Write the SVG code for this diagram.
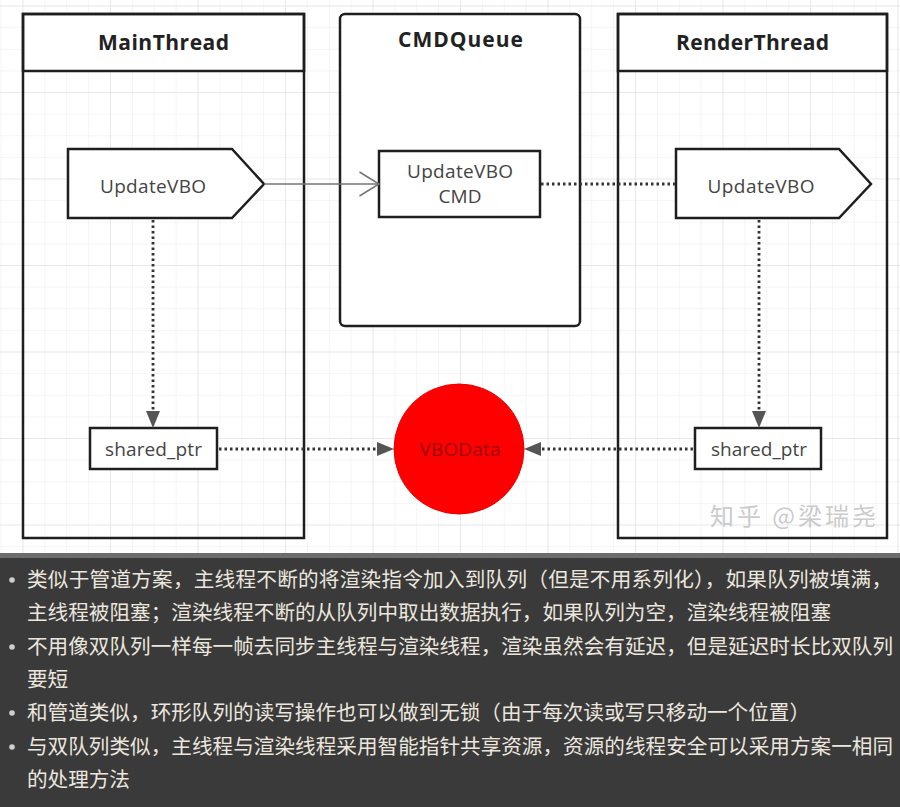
<svg xmlns="http://www.w3.org/2000/svg" width="900" height="807" viewBox="0 0 900 807">
<defs>
<style>
.lane{fill:none;stroke:#1e1e1e;stroke-width:2.5}
.hdr{fill:#fff;stroke:#1e1e1e;stroke-width:2.5}
.title{font-family:"Open Sans","Noto Sans",sans-serif;font-weight:700;font-size:21px;fill:#222;text-anchor:middle}
.lbl{font-family:"Open Sans","Noto Sans",sans-serif;font-size:19px;fill:#444;text-anchor:middle}
.box{fill:#fff;stroke:#1e1e1e;stroke-width:2.5}
.dot{fill:none;stroke:#333;stroke-width:2.8;stroke-dasharray:2.5 3}
.solid{fill:none;stroke:#747474;stroke-width:1.5}
.cn{font-family:"Noto Sans CJK SC","Noto Sans",sans-serif;font-size:20.6px;fill:#ebe7df}
.bul{fill:#cfcfcf}
</style>
<pattern id="gMinor" width="21.875" height="21.625" patternUnits="userSpaceOnUse" x="0.625" y="5.5">
<path d="M0 0V21.625M0 0H21.875" fill="none" stroke="#ececec" stroke-width="1"/>
</pattern>
<pattern id="gMajor" width="87.5" height="86.5" patternUnits="userSpaceOnUse" x="22.5" y="5.5">
<path d="M0 0V86.5M0 0H87.5" fill="none" stroke="#dedede" stroke-width="1"/>
</pattern>
<marker id="tri" markerUnits="userSpaceOnUse" markerWidth="17" markerHeight="14" refX="0" refY="7" orient="auto">
<path d="M0,0 L17,7 L0,14 z" fill="#555"/>
</marker>
<marker id="open" markerUnits="userSpaceOnUse" markerWidth="22" markerHeight="26" refX="20.5" refY="13" orient="auto">
<path d="M1,1 L20.5,13 L1,25" fill="none" stroke="#747474" stroke-width="1.5"/>
</marker>
</defs>

<rect x="0" y="0" width="900" height="553" fill="#fff"/>
<rect x="0" y="0" width="900" height="553" fill="url(#gMinor)"/>
<rect x="0" y="0" width="900" height="553" fill="url(#gMajor)"/>

<g id="MainThread">
<rect class="hdr" x="23" y="14" width="281" height="57"/>
<rect class="lane" x="23" y="14" width="281" height="524"/>
<text class="title" x="163.5" y="50" textLength="131">MainThread</text>
</g>

<g id="CMDQueue">
<rect class="box" x="340" y="14" width="240" height="312" rx="5"/>
<text class="title" x="460.5" y="47" textLength="125">CMDQueue</text>
</g>

<g id="RenderThread">
<rect class="hdr" x="618" y="14" width="269" height="57"/>
<rect class="lane" x="618" y="14" width="269" height="524"/>
<text class="title" x="752.5" y="50" textLength="153">RenderThread</text>
</g>

<g id="UpdateVBO_main">
<polygon class="box" points="68,149 232,149 264,184 232,218 68,218"/>
<text class="lbl" x="153" y="193" textLength="106">UpdateVBO</text>
</g>

<g id="UpdateVBO_cmd">
<rect class="box" x="379" y="151" width="161" height="66"/>
<text class="lbl" x="460" y="178" font-size="18" textLength="106">UpdateVBO</text>
<text class="lbl" x="460" y="203" font-size="18">CMD</text>
</g>

<g id="UpdateVBO_render">
<polygon class="box" points="676,149 839,149 871,184 839,218 676,218"/>
<text class="lbl" x="761" y="193" textLength="107">UpdateVBO</text>
</g>

<g id="shared_ptr_main">
<rect class="box" x="90" y="428" width="127" height="41"/>
<text class="lbl" x="153.5" y="456" textLength="97">shared_ptr</text>
</g>

<g id="shared_ptr_render">
<rect class="box" x="695" y="428" width="126" height="41"/>
<text class="lbl" x="759" y="456" textLength="96">shared_ptr</text>
</g>

<g id="VBOData">
<circle cx="459" cy="449" r="65" fill="#ff0000" stroke="#e80000" stroke-width="1"/>
<text x="460" y="456" text-anchor="middle" font-family="Open Sans, Noto Sans, sans-serif" font-size="19" fill="#9a0000" textLength="81">VBOData</text>
</g>

<g id="connectors">
<line class="solid" x1="264" y1="184" x2="379" y2="184" marker-end="url(#open)"/>
<line class="dot" x1="541" y1="184" x2="676" y2="184"/>
<line class="dot" x1="153" y1="220" x2="153" y2="411" marker-end="url(#tri)"/>
<line class="dot" x1="759" y1="220" x2="759" y2="411" marker-end="url(#tri)"/>
<line class="dot" x1="219" y1="449" x2="377" y2="449" marker-end="url(#tri)"/>
<line class="dot" x1="693" y1="449" x2="541" y2="449" marker-end="url(#tri)"/>
</g>

<text x="710" y="525" font-family="Noto Sans CJK SC, sans-serif" font-size="24" fill="#cbcbcb" textLength="166">知乎 @梁瑞尧</text>

<rect x="0" y="553" width="900" height="5" fill="#6d6d6d"/>
<rect x="0" y="558" width="900" height="249" fill="#3a3a3a"/>

<g id="notes">
<circle class="bul" cx="12" cy="580" r="2.8"/>
<circle class="bul" cx="12" cy="647" r="2.8"/>
<circle class="bul" cx="12" cy="713" r="2.8"/>
<circle class="bul" cx="12" cy="747" r="2.8"/>
<text class="cn" x="27" y="587" textLength="865">类似于管道方案，主线程不断的将渲染指令加入到队列（但是不用系列化），如果队列被填满，</text>
<text class="cn" x="27" y="620" textLength="804">主线程被阻塞；渲染线程不断的从队列中取出数据执行，如果队列为空，渲染线程被阻塞</text>
<text class="cn" x="27" y="654" textLength="866">不用像双队列一样每一帧去同步主线程与渲染线程，渲染虽然会有延迟，但是延迟时长比双队列</text>
<text class="cn" x="27" y="687">要短</text>
<text class="cn" x="27" y="720" textLength="783">和管道类似，环形队列的读写操作也可以做到无锁（由于每次读或写只移动一个位置）</text>
<text class="cn" x="27" y="754" textLength="866">与双队列类似，主线程与渲染线程采用智能指针共享资源，资源的线程安全可以采用方案一相同</text>
<text class="cn" x="27" y="787">的处理方法</text>
</g>
</svg>
